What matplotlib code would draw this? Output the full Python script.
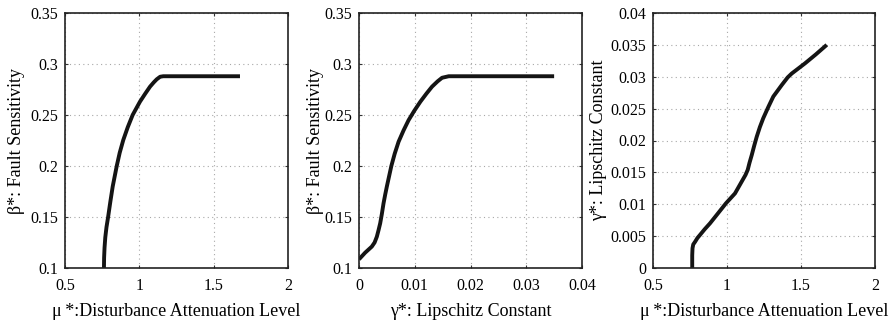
import matplotlib
matplotlib.use("Agg")
import matplotlib.pyplot as plt

plt.rcParams['font.family'] = ['Liberation Serif', 'DejaVu Serif']

# Panel 1: mu* vs beta*
mu1 = [0.762, 0.763, 0.766, 0.771, 0.779, 0.790, 0.805, 0.821, 0.848, 0.868, 0.892, 0.922,
       0.955, 1.004, 1.040, 1.072, 1.097, 1.117, 1.140, 1.161, 1.677]
beta1 = [0.100, 0.110, 0.120, 0.130, 0.140, 0.150, 0.165, 0.180, 0.200, 0.213, 0.2255, 0.238,
         0.250, 0.263, 0.271, 0.2778, 0.282, 0.285, 0.2875, 0.288, 0.288]

# Panel 2: gamma* vs beta*
gam2 = [0.0, 0.0011, 0.0023, 0.0028, 0.0032, 0.0035, 0.0038, 0.0041, 0.0044, 0.0047,
        0.0050, 0.0054, 0.0058, 0.0064, 0.0071, 0.0080, 0.0089, 0.0099, 0.0110, 0.0121,
        0.0131, 0.0141, 0.0149, 0.0161, 0.035]
beta2 = [0.1085, 0.115, 0.121, 0.125, 0.1307, 0.137, 0.1438, 0.153, 0.1634, 0.172,
         0.180, 0.190, 0.200, 0.212, 0.2238, 0.235, 0.245, 0.254, 0.263, 0.271,
         0.2778, 0.283, 0.2865, 0.288, 0.288]

# Panel 3: mu* vs gamma*
mu3 = [0.765, 0.765, 0.767, 0.772, 0.784, 0.800, 0.818, 0.850, 0.885, 0.940, 0.993,
       1.054, 1.099, 1.125, 1.140, 1.152, 1.167, 1.184, 1.201, 1.222, 1.245, 1.280,
       1.313, 1.370, 1.410, 1.437, 1.527, 1.600, 1.674]
gam3 = [0.0, 0.0020, 0.0031, 0.0037, 0.0041, 0.0047, 0.0052, 0.0061, 0.0070, 0.0086, 0.01015,
        0.0117, 0.01354, 0.0146, 0.0154, 0.0165, 0.0177, 0.0192, 0.0206, 0.0221, 0.0235, 0.0253,
        0.0269, 0.0287, 0.0299, 0.0305, 0.0321, 0.0335, 0.035]

x_ticks_mu = [0.5, 1, 1.5, 2]
x_ticklabels_mu = ['0.5', '1', '1.5', '2']
beta_ticks = [0.1, 0.15, 0.2, 0.25, 0.3, 0.35]
beta_ticklabels = ['0.1', '0.15', '0.2', '0.25', '0.3', '0.35']
gam_ticks_x = [0, 0.01, 0.02, 0.03, 0.04]
gam_ticklabels_x = ['0', '0.01', '0.02', '0.03', '0.04']
gam_ticks_y = [0, 0.005, 0.01, 0.015, 0.02, 0.025, 0.03, 0.035, 0.04]
gam_ticklabels_y = ['0', '0.005', '0.01', '0.015', '0.02', '0.025', '0.03', '0.035', '0.04']

W, H = 893, 324
fig = plt.figure(figsize=(W / 100, H / 100), dpi=100)

def add_ax(l, r, t, b):
    return fig.add_axes([l / W, 1 - b / H, (r - l) / W, (b - t) / H])

axes = [add_ax(65, 288, 13, 268), add_ax(359, 582, 13, 268), add_ax(653, 875, 13, 268)]

def style(ax, xt, xtl, yt, ytl, xlabel, ylabel, ylabelpad):
    ax.set_xticks(xt)
    ax.set_xticklabels(xtl)
    ax.set_yticks(yt)
    ax.set_yticklabels(ytl)
    ax.set_xlim(xt[0], xt[-1])
    ax.set_ylim(yt[0], yt[-1])
    ax.grid(True, linestyle=(0, (1, 3)), color='#a8a8a8', linewidth=0.8)
    ax.tick_params(direction='in', length=2, width=0.8, labelsize=11.5,
                   top=True, right=True, color='#333333')
    ax.tick_params(axis='y', pad=5)
    ax.tick_params(axis='x', pad=7.5)
    for s in ax.spines.values():
        s.set_linewidth(1.2)
        s.set_color('#222222')
    ax.set_xlabel(xlabel, fontsize=13, labelpad=6.5)
    ax.set_ylabel(ylabel, fontsize=13, labelpad=ylabelpad)

lw = 2.8
col = '#141414'
axes[0].plot(mu1, beta1, color=col, lw=lw, solid_capstyle='butt', solid_joinstyle='round')
style(axes[0], x_ticks_mu, x_ticklabels_mu, beta_ticks, beta_ticklabels,
      'μ\u2009*:Disturbance Attenuation Level', 'β*: Fault Sensitivity', 4)

axes[1].plot(gam2, beta2, color=col, lw=lw, solid_capstyle='butt', solid_joinstyle='round')
style(axes[1], gam_ticks_x, gam_ticklabels_x, beta_ticks, beta_ticklabels,
      'γ*: Lipschitz Constant', 'β*: Fault Sensitivity', 0)

axes[2].plot(mu3, gam3, color=col, lw=lw, solid_capstyle='butt', solid_joinstyle='round')
style(axes[2], x_ticks_mu, x_ticklabels_mu, gam_ticks_y, gam_ticklabels_y,
      'μ\u2009*:Disturbance Attenuation Level', 'γ*: Lipschitz Constant', 2)

fig.savefig('out.png', dpi=100)
